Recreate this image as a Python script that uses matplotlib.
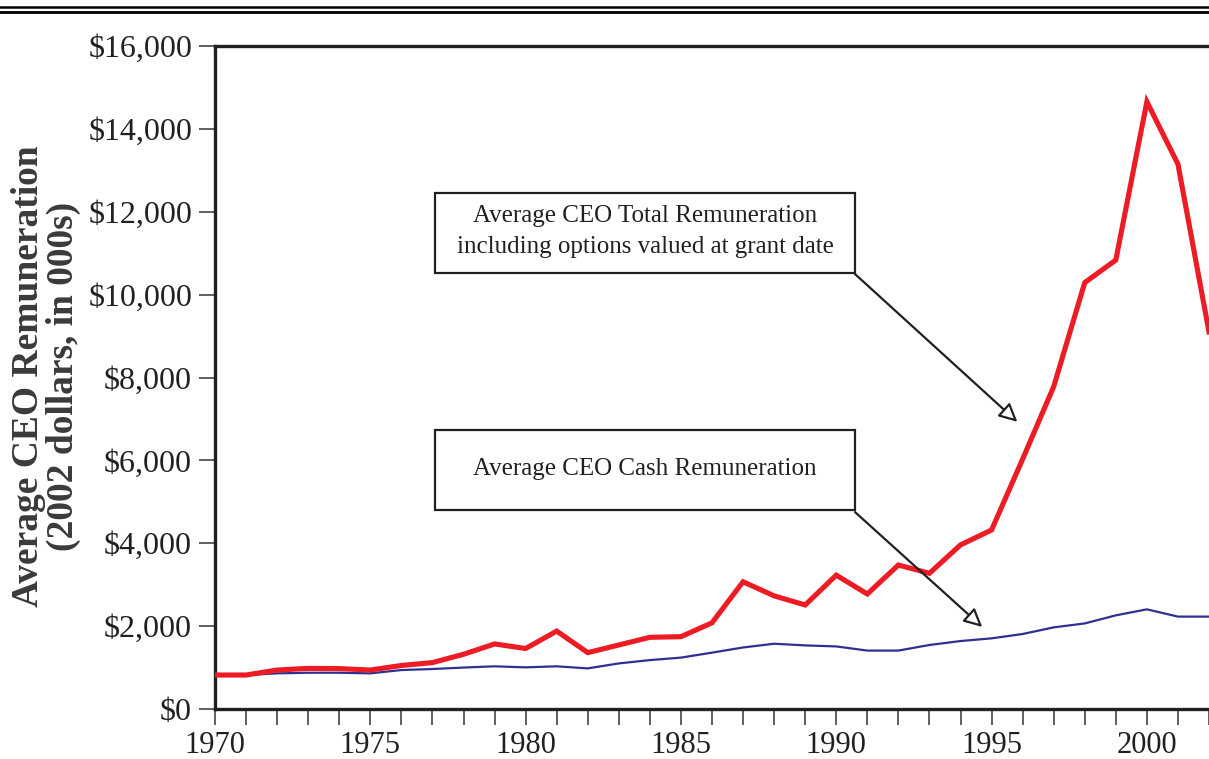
import matplotlib
matplotlib.use('Agg')
import matplotlib.pyplot as plt
from matplotlib.lines import Line2D
from matplotlib.patches import Rectangle, FancyArrowPatch
from matplotlib.ticker import FuncFormatter

plt.rcParams['font.family'] = ['Liberation Serif', 'DejaVu Serif']

years = list(range(1970, 2003))
# average CEO total remuneration incl. options (2002 $, 000s)
total_pay = [820, 820, 940, 980, 975, 940, 1050, 1120, 1320, 1570,
             1460, 1880, 1360, 1545, 1730, 1745, 2080, 3070, 2730, 2510,
             3230, 2775, 3475, 3275, 3960, 4320, 6030, 7780, 10290, 10835,
             14655, 13150, 9100]
# average CEO cash remuneration
cash_pay = [820, 820, 860, 875, 875, 860, 940, 965, 1000, 1030,
            1005, 1030, 980, 1100, 1180, 1240, 1360, 1485, 1575, 1535,
            1510, 1410, 1410, 1545, 1640, 1705, 1810, 1970, 2065, 2260,
            2405, 2230, 2230]

total_label = 'Average CEO Total Remuneration\nincluding options valued at grant date'
cash_label = 'Average CEO Cash Remuneration'

INK = '#231f20'
RED = '#ed1c24'
BLUE = '#2e3192'

fig = plt.figure(figsize=(12.09, 7.59), dpi=100)
ax = fig.add_axes([215 / 1209, 50 / 759, 994 / 1209, 663 / 759])

ax.plot(years, cash_pay, color=BLUE, lw=1.6, zorder=3)
ax.plot(years, total_pay, color=RED, lw=3.7, zorder=4, solid_joinstyle='miter')

ax.set_xlim(1970, 1970 + 994 / 31.17)
ax.set_ylim(0, 16000)

ax.set_xticks(range(1970, 2001, 5))
ax.set_xticks(range(1970, 2003), minor=True)
ax.set_yticks(range(0, 16001, 2000))
ax.yaxis.set_major_formatter(FuncFormatter(lambda v, p: '${:,.0f}'.format(v)))

ax.tick_params(axis='both', which='both', direction='out', length=11.5,
               width=1.2, color='#444444', labelcolor=INK)
ax.tick_params(axis='x', labelsize=22, pad=4)
ax.tick_params(axis='y', labelsize=23, pad=5)

for side in ['left', 'bottom', 'top']:
    ax.spines[side].set_linewidth(2.4)
    ax.spines[side].set_color(INK)
ax.spines['right'].set_visible(False)

# annotation boxes (axes fraction)
boxes = [(0.2213, 0.6581, 0.4226, 0.1202, total_label),
         (0.2213, 0.3002, 0.4226, 0.1206, cash_label)]
for x0, y0, w, h, txt in boxes:
    ax.add_patch(Rectangle((x0, y0), w, h, transform=ax.transAxes, fill=False,
                           ec=INK, lw=1.6, zorder=5, clip_on=False))
    ax.text(x0 + w / 2, y0 + h / 2 + 0.002, txt, transform=ax.transAxes, ha='center',
            va='center', fontsize=18, color=INK, linespacing=1.5, zorder=6)

arrows = [((0.6439, 0.656), (1995.83, 6930)),
          ((0.6439, 0.297), (1994.7, 1980))]
for (tx, ty), (hx, hy) in arrows:
    arr = FancyArrowPatch(ax.transAxes.transform((tx, ty)),
                          ax.transData.transform((hx, hy)),
                          transform=None, arrowstyle='-|>,head_length=11,head_width=5.5',
                          fc='white', ec=INK, lw=1.6, zorder=7,
                          shrinkA=0, shrinkB=0)
    fig.add_artist(arr)

# y axis title
fig.text(46 / 1209, 1 - 376 / 759, 'Average CEO Remuneration\n(2002 dollars, in 000s)',
         rotation=90, ha='center', va='center', fontsize=27, fontweight='bold',
         color='#3a3a3a', linespacing=1.02, multialignment='center')

# double rule at the top
fig.add_artist(Line2D([0, 1], [1 - 6.8 / 759] * 2, transform=fig.transFigure,
                      color='black', lw=1.8))
fig.add_artist(Line2D([0, 1], [1 - 12 / 759] * 2, transform=fig.transFigure,
                      color='black', lw=2.0))

fig.savefig('out.png', dpi=100)
